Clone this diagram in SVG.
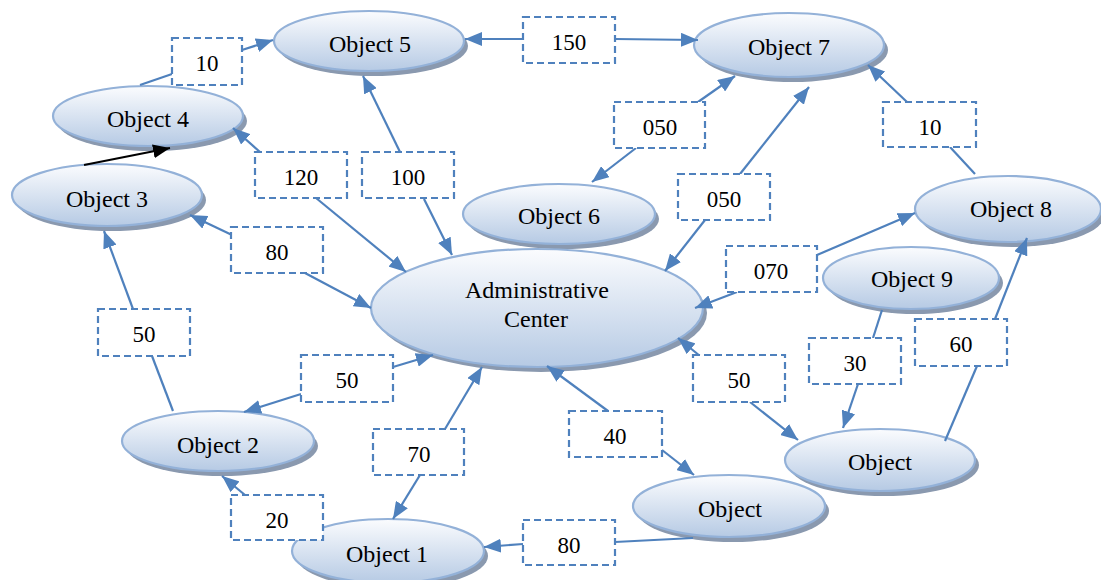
<svg xmlns="http://www.w3.org/2000/svg" width="1101" height="580" viewBox="0 0 1101 580">
<style>
.sh{fill:#8a99af}
.el{fill:url(#g);stroke:#93b1d8;stroke-width:2.2}
text{font-family:'Liberation Serif','DejaVu Serif',serif;font-size:24px;fill:#000;text-anchor:middle}
.n{font-size:23px}
.c{fill:none;stroke:#4f81bd;stroke-width:2.2}
.b{fill:#fff;stroke:#4f81bd;stroke-width:2.2;stroke-dasharray:7 4}
</style>
<defs>
<linearGradient id="g" x1="0" y1="0" x2="0" y2="1">
<stop offset="0" stop-color="#fbfcfe"/>
<stop offset="1" stop-color="#b6cae4"/>
</linearGradient>
<marker id="a" markerUnits="userSpaceOnUse" markerWidth="17" markerHeight="14" viewBox="0 0 17 14" refX="17" refY="7" orient="auto">
<path d="M0,0 L17,7 L0,14 z" fill="#4f81bd"/>
</marker>
<marker id="k" markerUnits="userSpaceOnUse" markerWidth="17" markerHeight="14" viewBox="0 0 17 14" refX="17" refY="7" orient="auto">
<path d="M0,0 L17,7 L0,14 z" fill="#000"/>
</marker>
</defs>

<g id="nodes">
<g id="obj5"><ellipse class="sh" cx="373" cy="46" rx="95" ry="30"/><ellipse class="el" cx="369" cy="41" rx="95" ry="30"/><text x="370" y="52">Object 5</text></g>
<g id="obj7"><ellipse class="sh" cx="793" cy="50" rx="95" ry="32"/><ellipse class="el" cx="789" cy="45" rx="95" ry="32"/><text x="789" y="55">Object 7</text></g>
<g id="obj4"><ellipse class="sh" cx="152" cy="121" rx="95" ry="30"/><ellipse class="el" cx="148" cy="116" rx="95" ry="30"/><text x="148" y="127">Object 4</text></g>
<g id="obj3"><ellipse class="sh" cx="111" cy="200" rx="95" ry="31"/><ellipse class="el" cx="107" cy="195" rx="95" ry="31"/><text x="107" y="207">Object 3</text></g>
<g id="obj6"><ellipse class="sh" cx="563" cy="219" rx="96" ry="30"/><ellipse class="el" cx="559" cy="214" rx="96" ry="30"/><text x="559" y="224">Object 6</text></g>
<g id="obj8"><ellipse class="sh" cx="1012" cy="214" rx="93" ry="33"/><ellipse class="el" cx="1008" cy="209" rx="93" ry="33"/><text x="1011" y="217">Object 8</text></g>
<g id="admin"><ellipse class="sh" cx="541" cy="313" rx="166" ry="59"/><ellipse class="el" cx="537" cy="308" rx="166" ry="59"/><text x="537" y="298">Administrative</text><text x="536" y="327">Center</text></g>
<g id="obj9"><ellipse class="sh" cx="915" cy="283" rx="88" ry="31"/><ellipse class="el" cx="911" cy="278" rx="88" ry="31"/><text x="912" y="287">Object 9</text></g>
<g id="obj2"><ellipse class="sh" cx="222" cy="446" rx="96" ry="30"/><ellipse class="el" cx="218" cy="441" rx="96" ry="30"/><text x="218" y="453">Object 2</text></g>
<g id="obj1"><ellipse class="sh" cx="392" cy="556" rx="96" ry="32"/><ellipse class="el" cx="388" cy="551" rx="96" ry="32"/><text x="387" y="562">Object 1</text></g>
<g id="objR"><ellipse class="sh" cx="884" cy="465" rx="95" ry="31"/><ellipse class="el" cx="880" cy="460" rx="95" ry="31"/><text x="880" y="470">Object</text></g>
<g id="objM"><ellipse class="sh" cx="733" cy="511" rx="96" ry="31"/><ellipse class="el" cx="729" cy="506" rx="96" ry="31"/><text x="730" y="517">Object</text></g>
</g>

<g id="connectors">
<path class="c" d="M140,85 L172,74"/>
<path class="c" d="M242,50 L273,40" marker-end="url(#a)"/>
<path d="M84,165 L170,148" fill="none" stroke="#000" stroke-width="2" marker-end="url(#k)"/>
<path class="c" d="M260,152 L233,128" marker-end="url(#a)"/>
<path class="c" d="M316,198 L406,272" marker-end="url(#a)"/>
<path class="c" d="M400,152 L363,76" marker-end="url(#a)"/>
<path class="c" d="M424,199 L452,255" marker-end="url(#a)"/>
<path class="c" d="M523,39 L465,39" marker-end="url(#a)"/>
<path class="c" d="M615,39 L698,40" marker-end="url(#a)"/>
<path class="c" d="M698,102 L735,76" marker-end="url(#a)"/>
<path class="c" d="M636,148 L592,182" marker-end="url(#a)"/>
<path class="c" d="M740,174 L809,87" marker-end="url(#a)"/>
<path class="c" d="M705,220 L665,271" marker-end="url(#a)"/>
<path class="c" d="M907,102 L868,65" marker-end="url(#a)"/>
<path class="c" d="M950,147 L975,174"/>
<path class="c" d="M232,235 L190,215" marker-end="url(#a)"/>
<path class="c" d="M305,273 L371,308" marker-end="url(#a)"/>
<path class="c" d="M133,309 L104,231" marker-end="url(#a)"/>
<path class="c" d="M152,356 L173,411"/>
<path class="c" d="M301,394 L244,412" marker-end="url(#a)"/>
<path class="c" d="M393,367 L433,355" marker-end="url(#a)"/>
<path class="c" d="M245,495 L222,476" marker-end="url(#a)"/>
<path class="c" d="M445,429 L482,367" marker-end="url(#a)"/>
<path class="c" d="M420,475 L393,519" marker-end="url(#a)"/>
<path class="c" d="M608,411 L547,366" marker-end="url(#a)"/>
<path class="c" d="M662,450 L694,475" marker-end="url(#a)"/>
<path class="c" d="M693,538 L615,542"/>
<path class="c" d="M523,544 L484,547" marker-end="url(#a)"/>
<path class="c" d="M700,356 L678,338" marker-end="url(#a)"/>
<path class="c" d="M750,402 L798,440" marker-end="url(#a)"/>
<path class="c" d="M737,292 L695,308" marker-end="url(#a)"/>
<path class="c" d="M817,255 L915,213" marker-end="url(#a)"/>
<path class="c" d="M882,310 L873,338"/>
<path class="c" d="M858,384 L843,428" marker-end="url(#a)"/>
<path class="c" d="M995,319 L1027,238" marker-end="url(#a)"/>
<path class="c" d="M945,441 L977,366"/>
</g>

<g id="labels">
<g id="l10a"><rect class="b" x="172" y="38" width="70" height="47"/><text class="n" x="207" y="71">10</text></g>
<g id="l120"><rect class="b" x="255" y="152" width="92" height="46"/><text class="n" x="301" y="185">120</text></g>
<g id="l100"><rect class="b" x="362" y="152" width="92" height="46"/><text class="n" x="408" y="185">100</text></g>
<g id="l150"><rect class="b" x="523" y="17" width="92" height="46"/><text class="n" x="569" y="50">150</text></g>
<g id="l050a"><rect class="b" x="614" y="102" width="91" height="46"/><text class="n" x="660" y="135">050</text></g>
<g id="l050b"><rect class="b" x="678" y="174" width="92" height="46"/><text class="n" x="724" y="207">050</text></g>
<g id="l10b"><rect class="b" x="883" y="102" width="93" height="45"/><text class="n" x="930" y="135">10</text></g>
<g id="l80a"><rect class="b" x="231" y="227" width="92" height="46"/><text class="n" x="277" y="260">80</text></g>
<g id="l50a"><rect class="b" x="98" y="309" width="92" height="47"/><text class="n" x="144" y="342">50</text></g>
<g id="l50b"><rect class="b" x="301" y="355" width="92" height="47"/><text class="n" x="347" y="388">50</text></g>
<g id="l20"><rect class="b" x="231" y="495" width="92" height="45"/><text class="n" x="277" y="528">20</text></g>
<g id="l70"><rect class="b" x="373" y="429" width="91" height="46"/><text class="n" x="419" y="462">70</text></g>
<g id="l40"><rect class="b" x="569" y="411" width="93" height="46"/><text class="n" x="615" y="444">40</text></g>
<g id="l80b"><rect class="b" x="523" y="520" width="92" height="45"/><text class="n" x="569" y="553">80</text></g>
<g id="l50c"><rect class="b" x="693" y="355" width="92" height="47"/><text class="n" x="739" y="388">50</text></g>
<g id="l070"><rect class="b" x="726" y="246" width="91" height="46"/><text class="n" x="771" y="279">070</text></g>
<g id="l30"><rect class="b" x="809" y="338" width="92" height="46"/><text class="n" x="855" y="371">30</text></g>
<g id="l60"><rect class="b" x="915" y="319" width="92" height="47"/><text class="n" x="961" y="352">60</text></g>
</g>
</svg>
